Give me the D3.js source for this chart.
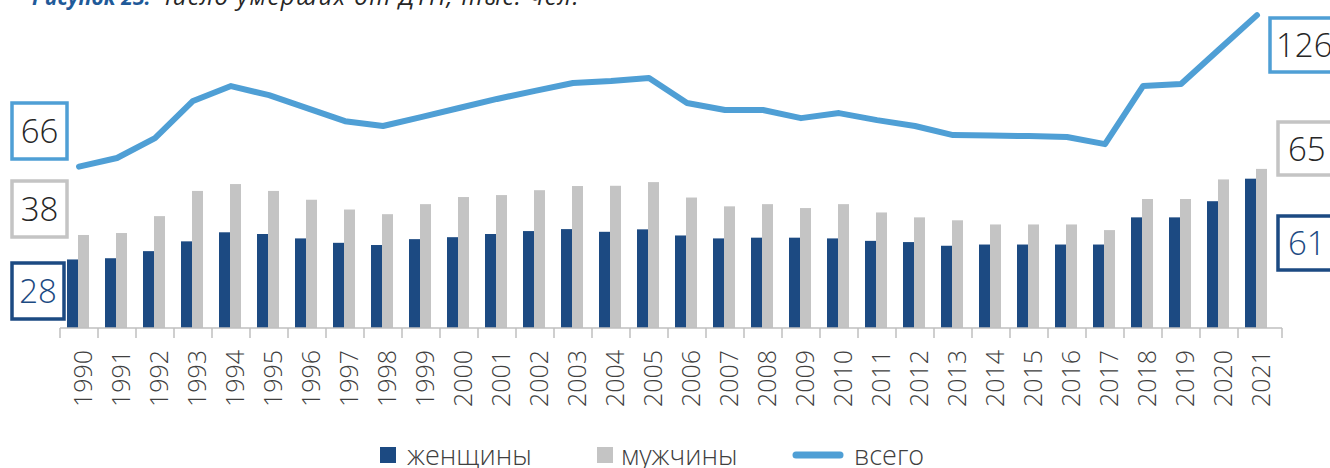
<!DOCTYPE html>
<html>
<head>
<meta charset="utf-8">
<script src="https://cdn.jsdelivr.net/npm/d3@7"></script>
<style>
  body { margin: 0; background: #fff; }
  svg { display: block; font-family: "Open Sans", sans-serif; }
</style>
</head>
<body>
<svg id="chart" width="1330" height="468"></svg>
<script>
var years = ["1990","1991","1992","1993","1994","1995","1996","1997","1998","1999",
             "2000","2001","2002","2003","2004","2005","2006","2007","2008","2009",
             "2010","2011","2012","2013","2014","2015","2016","2017","2018","2019",
             "2020","2021"];
var women = [28, 28.5, 31.4, 35.4, 39.1, 38.4, 36.6, 34.8, 33.9, 36.3,
             37.1, 38.4, 39.6, 40.4, 39.3, 40.3, 37.8, 36.6, 36.9, 36.9,
             36.6, 35.6, 35.1, 33.6, 34.1, 34.1, 34.1, 34.1, 45.2, 45.2,
             51.8, 61];
var men   = [38, 38.8, 45.7, 56, 58.8, 56, 52.4, 48.4, 46.5, 50.6,
             53.5, 54.3, 56.3, 58, 58.1, 59.6, 53.3, 49.7, 50.6, 49,
             50.6, 47.2, 45.2, 44, 42.3, 42.3, 42.3, 40, 52.7, 52.7,
             60.7, 65];
var total = [66, 69.4, 77.3, 92, 97.9, 94.3, 89.2, 84, 82.1, 85.6,
             89.2, 92.8, 96, 99.1, 99.9, 101.1, 91.2, 88.4, 88.4, 85.2,
             87.2, 84.4, 82.1, 78.5, 78.3, 78.1, 77.7, 74.9, 97.9, 98.7,
             112.4, 126];
var legendLabels = ["женщины", "мужчины", "всего"];

var cWomen = "#1c4a82", cMen = "#c4c4c4", cTotal = "#4f9fd5", cAxis = "#bfbfbf";

var svg = d3.select("#chart");

var x = d3.scaleBand()
  .domain(years)
  .range([60, 1276])
  .paddingInner(0);

// bars axis
var y = d3.scaleLinear()
  .domain([0, 134])
  .range([328, 0]);

// secondary axis for the total line
var yTot = d3.scaleLinear()
  .domain([0, 132])
  .range([333.2, 0]);

// title (mostly cut off at the top)
var title = svg.append("text")
  .attr("x", 32)
  .attr("y", 5)
  .style("font-style", "italic");
title.append("tspan").attr("fill", "#1f5a99").style("font-weight", 700).style("font-size", "21px").text("Рисунок 23. ");
title.append("tspan").attr("fill", "#262626").style("font-weight", 400).style("font-size", "24px")
  .style("letter-spacing", "1.4px").text("Число умерших от ДТП, тыс. чел.");

// bars
var groups = svg.append("g").selectAll("g")
  .data(years)
  .join("g")
  .attr("transform", function(d) { return "translate(" + (x(d) + x.bandwidth() / 2) + ",0)"; });

groups.append("rect")
  .attr("x", -12)
  .attr("width", 11)
  .attr("y", function(d, i) { return y(women[i]); })
  .attr("height", function(d, i) { return y(0) - y(women[i]); })
  .attr("fill", cWomen);

groups.append("rect")
  .attr("x", -1)
  .attr("width", 11)
  .attr("y", function(d, i) { return y(men[i]); })
  .attr("height", function(d, i) { return y(0) - y(men[i]); })
  .attr("fill", cMen);

// x axis
var axis = svg.append("g").attr("transform", "translate(0," + y(0) + ")");
axis.append("line")
  .attr("x1", x.range()[0]).attr("x2", 1282)
  .attr("stroke", cAxis).attr("stroke-width", 1.5);
var tickPos = years.map(function(d) { return x(d); }).concat([1282]);
axis.selectAll(".tick")
  .data(tickPos)
  .join("line")
  .attr("x1", function(d) { return d; })
  .attr("x2", function(d) { return d; })
  .attr("y1", 0).attr("y2", 10)
  .attr("stroke", cAxis).attr("stroke-width", 1.5);

svg.append("g").selectAll("text")
  .data(years)
  .join("text")
  .attr("transform", function(d) { return "translate(" + (x(d) + x.bandwidth() / 2 + 13) + ",350) rotate(-90)"; })
  .attr("text-anchor", "end")
  .attr("fill", "#404040")
  .style("font-size", "25px")
  .style("font-weight", 300)
  .text(function(d) { return d; });

// total line
var line = d3.line()
  .x(function(d, i) { return x(years[i]) + x.bandwidth() / 2; })
  .y(function(d) { return yTot(d); });

svg.append("path")
  .datum(total)
  .attr("d", line)
  .attr("fill", "none")
  .attr("stroke", cTotal)
  .attr("stroke-width", 6)
  .attr("stroke-linejoin", "round")
  .attr("stroke-linecap", "round");

// value boxes at the ends
var last = years.length - 1;
var boxes = [
  {v: total[0], x: 12, y: 103, w: 55, h: 56, stroke: cTotal, fill: "#262626"},
  {v: men[0],   x: 12, y: 181, w: 55, h: 56, stroke: cMen,   fill: "#262626"},
  {v: women[0], x: 12, y: 263, w: 52, h: 56, stroke: cWomen, fill: cWomen},
  {v: total[last], x: 1270, y: 18,  w: 80, h: 54, stroke: cTotal, fill: "#262626"},
  {v: men[last],   x: 1278, y: 122, w: 70, h: 53, stroke: cMen,   fill: "#262626"},
  {v: women[last], x: 1278, y: 216, w: 70, h: 54, stroke: cWomen, fill: cWomen}
];
var bx = svg.append("g").selectAll("g")
  .data(boxes)
  .join("g");
bx.append("rect")
  .attr("x", function(d) { return d.x; })
  .attr("y", function(d) { return d.y; })
  .attr("width", function(d) { return d.w; })
  .attr("height", function(d) { return d.h; })
  .attr("fill", "#fff")
  .attr("stroke", function(d) { return d.stroke; })
  .attr("stroke-width", 3.5);
bx.append("text")
  .attr("x", function(d, i) { return i < 3 ? d.x + d.w / 2 : (i == 3 ? d.x + 6 : 1288); })
  .attr("y", function(d) { return d.y + d.h / 2 + 12; })
  .attr("text-anchor", function(d, i) { return i < 3 ? "middle" : "start"; })
  .attr("fill", function(d) { return d.fill; })
  .style("font-size", "33px")
  .style("font-weight", 300)
  .text(function(d) { return Math.round(d.v); });

// legend
var lg = svg.append("g").style("font-size", "27px").style("font-weight", 300).attr("fill", "#404040");
lg.append("rect").attr("x", 380).attr("y", 447).attr("width", 16).attr("height", 16).attr("fill", cWomen);
lg.append("text").attr("x", 407).attr("y", 465).text(legendLabels[0]);
lg.append("rect").attr("x", 597).attr("y", 447).attr("width", 16).attr("height", 16).attr("fill", cMen);
lg.append("text").attr("x", 621).attr("y", 465).text(legendLabels[1]);
lg.append("line").attr("x1", 796).attr("x2", 840).attr("y1", 455).attr("y2", 455)
  .attr("stroke", cTotal).attr("stroke-width", 7).attr("stroke-linecap", "round");
lg.append("text").attr("x", 854).attr("y", 465).text(legendLabels[2]);
</script>
</body>
</html>
